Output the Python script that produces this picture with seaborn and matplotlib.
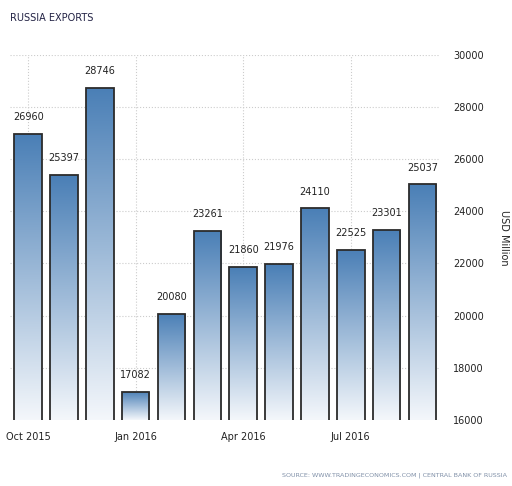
import numpy as np
import pandas as pd
import matplotlib
matplotlib.use("Agg")
import matplotlib.pyplot as plt
import seaborn as sns
from matplotlib.colors import LinearSegmentedColormap

# Dados
meses = ['Oct 2015', 'Nov 2015', 'Dec 2015', 'Jan 2016', 'Feb 2016', 'Mar 2016',
         'Apr 2016', 'May 2016', 'Jun 2016', 'Jul 2016', 'Aug 2016', 'Sep 2016']
exportacoes = [26960, 25397, 28746, 17082, 20080, 23261,
               21860, 21976, 24110, 22525, 23301, 25037]
rotulos_x = ['Oct 2015', 'Jan 2016', 'Apr 2016', 'Jul 2016']
ticks_y = [16000, 18000, 20000, 22000, 24000, 26000, 28000, 30000]

df = pd.DataFrame({'mes': meses, 'valor': exportacoes})

sns.set_style('white')
plt.rcParams['font.family'] = ['DejaVu Sans']

fig = plt.figure(figsize=(5.12, 4.86), dpi=100)
ax = fig.add_axes([0.02, 0.136, 0.84, 0.751])

sns.barplot(data=df, x='mes', y='valor', ax=ax, width=0.77,
            facecolor='none', edgecolor='#2b2b2b', linewidth=1.3)

# Gradiente em cada barra
cmap = LinearSegmentedColormap.from_list('azul', ['#f4f7fb', '#4a7fb6'])
grad = np.linspace(0, 1, 256).reshape(-1, 1)
for p in ax.patches:
    x0, y0 = p.get_x(), 16000
    x1, y1 = x0 + p.get_width(), p.get_height()
    im = ax.imshow(grad, cmap=cmap, origin='lower', aspect='auto',
                   extent=[x0, x1, y0, y1], zorder=1)
    im.set_clip_path(p)
    p.set_zorder(2)
ax.set_aspect('auto')
ax.set_xlim(-0.5, 11.5)
ax.set_ylim(16000, 30000)

# Rotulos de valor
for i, v in enumerate(exportacoes):
    ax.text(i, v + 450, f'{v}', ha='center', va='bottom', fontsize=7, color='#222222')

# Grade
ax.set_yticks(ticks_y)
ax.set_yticklabels([str(t) for t in ticks_y])
ax.yaxis.tick_right()
ax.set_xticks([0, 3, 6, 9])
ax.set_xticklabels(rotulos_x)
ax.tick_params(axis='both', length=0, labelsize=7, colors='#222222')
ax.tick_params(axis='y', pad=9)
ax.tick_params(axis='x', pad=9)
ax.grid(True, linestyle=':', color='#cccccc', linewidth=0.8)
ax.set_axisbelow(True)
for s in ax.spines.values():
    s.set_visible(False)
ax.set_xlabel('')
ax.set_ylabel('USD Million', rotation=-90, fontsize=7, labelpad=18, color='#222222')
ax.yaxis.set_label_position('right')

fig.text(0.02, 0.963, 'RUSSIA EXPORTS', fontsize=7, color='#222244', va='center')
fig.text(0.99, 0.022, 'SOURCE: WWW.TRADINGECONOMICS.COM | CENTRAL BANK OF RUSSIA',
         fontsize=4.6, color='#8090a8', ha='right', va='center')

plt.savefig('out.png', dpi=100)
